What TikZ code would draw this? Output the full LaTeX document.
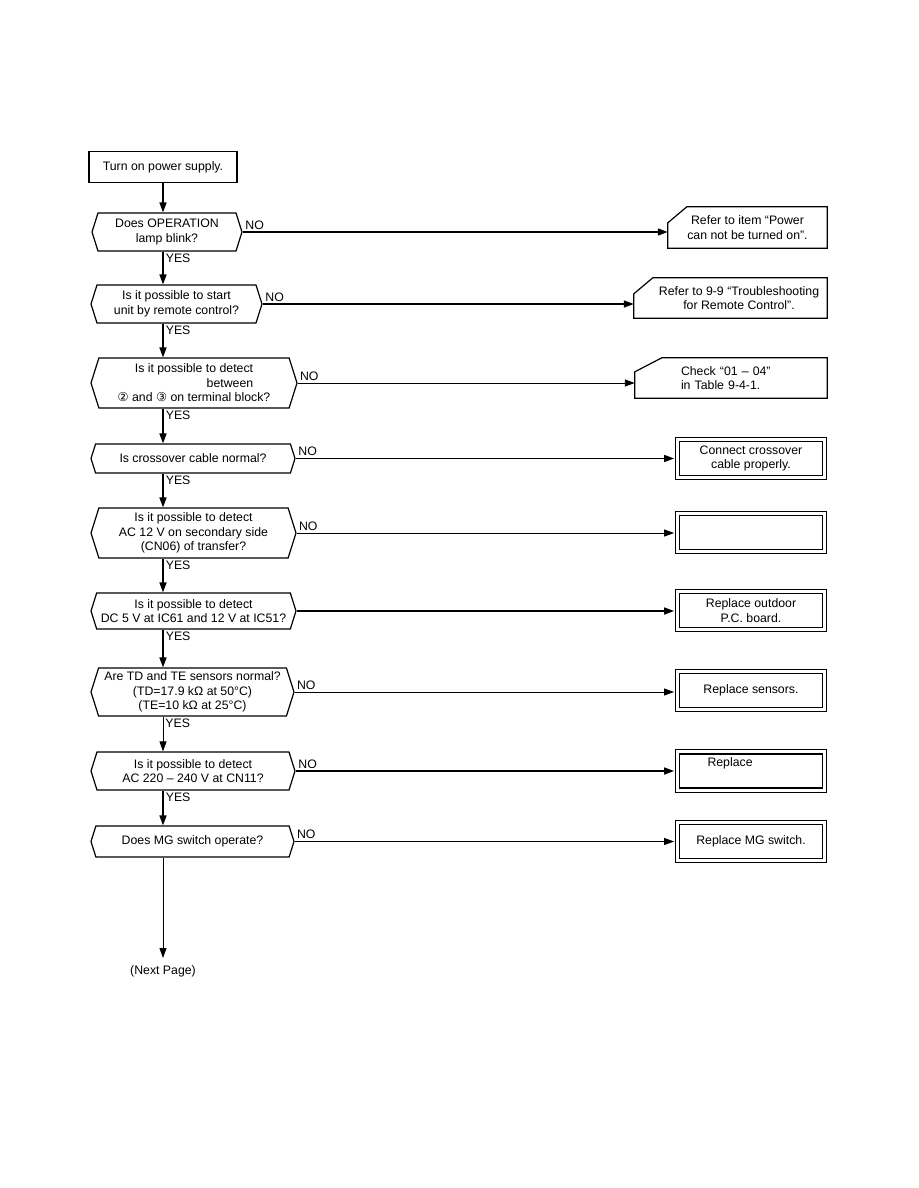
\documentclass[tikz,border=0pt]{standalone}
\usepackage{fontspec}
\setmainfont{Liberation Sans}
\newfontfamily\symfont{DejaVu Sans}
\usetikzlibrary{arrows.meta,shapes.symbols}

% outline of a box with its top left corner cut off
\newcommand{\notchbox}[3][19pt]{%
  \draw[line width=1.2pt] ([xshift=#1]#2.north west) -- (#2.north east)
    -- (#2.south east) -- (#2.south west) -- ([yshift=-#3]#2.north west)
    -- cycle;}

\begin{document}
\begin{tikzpicture}[
  x=1pt, y=-1pt,
  font=\fontsize{12.3}{14.5}\selectfont,
  startbox/.style={rectangle, draw, line width=1.2pt, minimum width=148pt,
                   minimum height=31pt, inner sep=2pt},
  ask/.style={signal, signal to=west and east, signal pointer angle=145,
              draw, line width=1.2pt, align=center, inner sep=1pt},
  refer/.style={rectangle, align=center, inner sep=2pt},
  fix/.style={rectangle, draw, line width=1.6pt, fill=white, align=center,
              minimum width=143pt, minimum height=34pt, inner sep=2pt,
              preaction={draw, black, line width=9.2pt},
              preaction={draw, white, line width=7.4pt}},
  arr/.style={-{Triangle[length=10pt, width=7pt]}, line width=1.6pt},
  arrthin/.style={-{Triangle[length=10pt, width=7pt]}, line width=0.9pt},
  lbl/.style={inner sep=2pt}
]
\useasboundingbox (0,0) rectangle (918,1188);

% ---------------- left column: checks ----------------
\node[startbox] (start) at (163,167) {Turn on power supply.};
\node[ask, minimum width=150pt, minimum height=38pt] (blink) at (167,232)
  {Does OPERATION\\lamp blink?};
\node[ask, minimum width=171pt, minimum height=38pt] (remote) at (176.5,304)
  {Is it possible to start\\unit by remote control?};
\node[ask, minimum width=206pt, minimum height=50pt] (term) at (194,383)
  {Is it possible to detect\\\hspace*{72pt}between\\
   {\symfont ②} and {\symfont ③} on terminal block?};
\node[ask, minimum width=204pt, minimum height=29pt] (cable) at (193,458.5)
  {Is crossover cable normal?};
\node[ask, minimum width=205pt, minimum height=50pt] (sec) at (193.5,533)
  {Is it possible to detect\\AC 12 V on secondary side\\(CN06) of transfer?};
\node[ask, minimum width=205pt, minimum height=36pt] (dc) at (193.5,611)
  {Is it possible to detect\\DC 5 V at IC61 and 12 V at IC51?};
\node[ask, minimum width=203pt, minimum height=48pt] (sens) at (192.5,692)
  {Are TD and TE sensors normal?\\(TD=17.9 kΩ at 50°C)\\(TE=10 kΩ at 25°C)};
\node[ask, minimum width=204pt, minimum height=38pt] (ac) at (193,771)
  {Is it possible to detect\\AC 220 – 240 V at CN11?};
\node[ask, minimum width=203pt, minimum height=31pt] (mg) at (192.5,841.5)
  {Does MG switch operate?};
\coordinate (end) at (163,958);
\node[lbl, below=5pt] (next) at (end) {(Next Page)};

% ---------------- right column: actions ----------------
\node[refer, minimum width=159pt, minimum height=41pt] (power) at (747.5,227.5)
  {Refer to item “Power\\can not be turned on”.};
\node[refer, minimum width=193pt, minimum height=40pt] (rc) at (730.5,298)
  {\hspace*{17pt}Refer to 9-9 “Troubleshooting\\\hspace*{17pt}for Remote Control”.};
\node[refer, minimum width=192pt, minimum height=40pt, align=left,
      text width=100pt] (tbl) at (731,378)
  {Check “01 – 04”\\in Table 9-4-1.};
\notchbox{power}{16pt}
\notchbox{rc}{16pt}
\notchbox[27pt]{tbl}{14pt}
\node[fix] (conn) at (751,458.5) {Connect crossover\\cable properly.};
\node[fix] (blank) at (751,532.5) {};
\node[fix] (pcb) at (751,610.5) {Replace outdoor\\P.C. board.};
\node[fix] (rsens) at (751,690.5) {Replace sensors.};
\node[fix, align=left, text width=87pt] (rep) at (751,771) {Replace\\\strut};
\node[fix] (rmg) at (751,841.5) {Replace MG switch.};

% ---------------- arrows ----------------
\draw[arr] (start) -- (blink.north -| start.south);
\draw[arr] (blink.south -| start.south) -- node[lbl, pos=0, below right]{YES}
  (remote.north -| start.south);
\draw[arr] (remote.south -| start.south) -- node[lbl, pos=0, below right]{YES}
  (term.north -| start.south);
\draw[arr] (term.south -| start.south) -- node[lbl, pos=0, below right]{YES}
  (cable.north -| start.south);
\draw[arr] (cable.south -| start.south) -- node[lbl, pos=0, below right]{YES}
  (sec.north -| start.south);
\draw[arr] (sec.south -| start.south) -- node[lbl, pos=0, below right]{YES}
  (dc.north -| start.south);
\draw[arr] (dc.south -| start.south) -- node[lbl, pos=0, below right]{YES}
  (sens.north -| start.south);
\draw[arrthin] (sens.south -| start.south) -- node[lbl, pos=0, below right]{YES}
  (ac.north -| start.south);
\draw[arr] (ac.south -| start.south) -- node[lbl, pos=0, below right]{YES}
  (mg.north -| start.south);
\draw[arrthin] (mg.south -| start.south) -- (end);

\draw[arr] (blink.east) -- node[lbl, pos=0, above right]{NO} (blink.east -| power.west);
\draw[arr] (remote.east) -- node[lbl, pos=0, above right]{NO} (remote.east -| rc.west);
\draw[arrthin] (term.east) -- node[lbl, pos=0, above right]{NO} (term.east -| tbl.west);
\draw[arr] (cable.east) -- node[lbl, pos=0, above right]{NO} ([xshift=-4.6pt]cable.east -| conn.west);
\draw[arrthin] (sec.east) -- node[lbl, pos=0, above right]{NO} ([xshift=-4.6pt]sec.east -| blank.west);
\draw[arr] (dc.east) -- ([xshift=-4.6pt]dc.east -| pcb.west);
\draw[arrthin] (sens.east) -- node[lbl, pos=0, above right]{NO} ([xshift=-4.6pt]sens.east -| rsens.west);
\draw[arr] (ac.east) -- node[lbl, pos=0, above right]{NO} ([xshift=-4.6pt]ac.east -| rep.west);
\draw[arrthin] (mg.east) -- node[lbl, pos=0, above right]{NO} ([xshift=-4.6pt]mg.east -| rmg.west);
\end{tikzpicture}
\end{document}
